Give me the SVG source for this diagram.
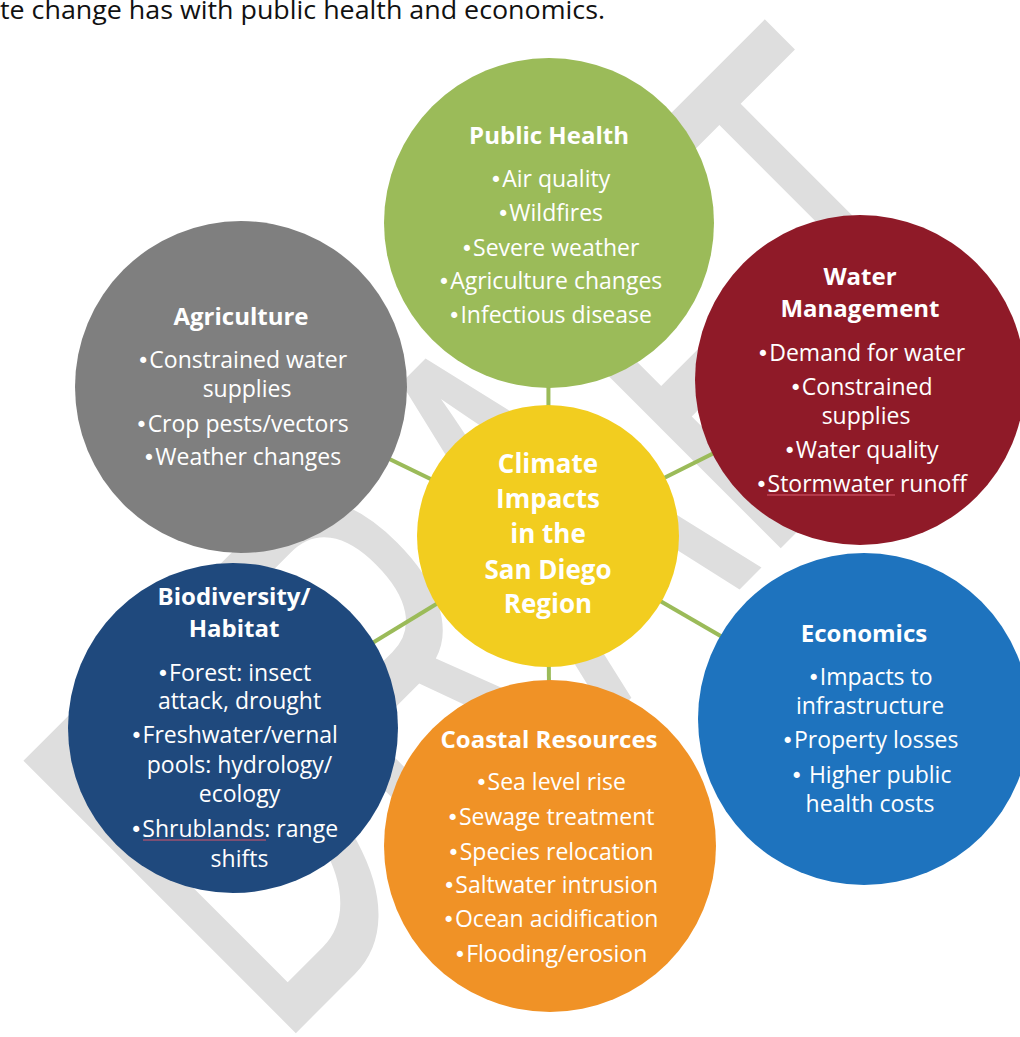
<svg xmlns="http://www.w3.org/2000/svg" width="1020" height="1037" viewBox="0 0 1020 1037">
<style>
.t{font-family:"Open Sans","Noto Sans","Liberation Sans",sans-serif;fill:#fff;text-anchor:middle}
.h{font-size:24px;font-weight:700}
.b{font-size:23px}
.c{font-size:26px;font-weight:700}
.u{font-family:"DejaVu Sans",sans-serif;font-size:21px}
.conn{stroke:#9BBB59;stroke-width:4;fill:none}
.sp{stroke:#D9566A;stroke-width:1.2}
</style>
<rect x="0" y="0" width="1020" height="1037" fill="#fff"/>
<text x="0" y="19" font-family="'Open Sans','Noto Sans',sans-serif" font-size="25" fill="#111" textLength="605" lengthAdjust="spacingAndGlyphs">te change has with public health and economics.</text>
<g id="watermark">
<text x="0" y="0" transform="translate(277,1052) rotate(-45) scale(0.58,1)" font-family="'Liberation Sans',sans-serif" font-size="560" fill="#dedede">DRAFT</text>
</g>
<g id="connectors">
<line class="conn" x1="548" y1="536" x2="549" y2="223"/>
<line class="conn" x1="548" y1="536" x2="860" y2="380"/>
<line class="conn" x1="548" y1="536" x2="864" y2="719"/>
<line class="conn" x1="548" y1="536" x2="241" y2="387"/>
<line class="conn" x1="548" y1="536" x2="233" y2="728"/>
<line class="conn" x1="548" y1="536" x2="550" y2="846"/>
</g>
<g id="public-health">
<circle cx="549" cy="223" r="165" fill="#9BBB59"/>
<text class="t h" x="549" y="144">Public Health</text>
<text class="t b" x="550" y="187"><tspan class="u">•</tspan>Air quality</text>
<text class="t b" x="550" y="221"><tspan class="u">•</tspan>Wildfires</text>
<text class="t b" x="550" y="255.5"><tspan class="u">•</tspan>Severe weather</text>
<text class="t b" x="550" y="289"><tspan class="u">•</tspan>Agriculture changes</text>
<text class="t b" x="550" y="323"><tspan class="u">•</tspan>Infectious disease</text>
</g>
<g id="water-management">
<circle cx="860" cy="380" r="165" fill="#8F1A28"/>
<text class="t h" x="860" y="285">Water</text>
<text class="t h" x="860" y="317">Management</text>
<text class="t b" x="861" y="361"><tspan class="u">•</tspan>Demand for water</text>
<text class="t b" x="861" y="395"><tspan class="u">•</tspan>Constrained</text>
<text class="t b" x="866" y="424">supplies</text>
<text class="t b" x="861" y="458"><tspan class="u">•</tspan>Water quality</text>
<text class="t b" x="861" y="492"><tspan class="u">•</tspan>Stormwater runoff</text>
<line class="sp" x1="767" y1="495" x2="895" y2="495"/>
</g>
<g id="economics">
<circle cx="864" cy="719" r="166" fill="#1E73BE"/>
<text class="t h" x="864" y="642">Economics</text>
<text class="t b" x="870" y="685"><tspan class="u">•</tspan>Impacts to</text>
<text class="t b" x="870" y="714">infrastructure</text>
<text class="t b" x="870" y="748"><tspan class="u">•</tspan>Property losses</text>
<text class="t b" x="871" y="783"><tspan class="u">•</tspan> Higher public</text>
<text class="t b" x="870" y="812">health costs</text>
</g>
<g id="agriculture">
<circle cx="241" cy="387" r="166" fill="#7F7F7F"/>
<text class="t h" x="241" y="325">Agriculture</text>
<text class="t b" x="242" y="368"><tspan class="u">•</tspan>Constrained water</text>
<text class="t b" x="247" y="397">supplies</text>
<text class="t b" x="242" y="432"><tspan class="u">•</tspan>Crop pests/vectors</text>
<text class="t b" x="242" y="465"><tspan class="u">•</tspan>Weather changes</text>
</g>
<g id="biodiversity">
<circle cx="233" cy="728" r="165" fill="#1F497D"/>
<text class="t h" x="234" y="605">Biodiversity/</text>
<text class="t h" x="234" y="637">Habitat</text>
<text class="t b" x="234" y="681"><tspan class="u">•</tspan>Forest: insect</text>
<text class="t b" x="239.5" y="709">attack, drought</text>
<text class="t b" x="234" y="743"><tspan class="u">•</tspan>Freshwater/vernal</text>
<text class="t b" x="239.5" y="773">pools: hydrology/</text>
<text class="t b" x="239.5" y="802">ecology</text>
<text class="t b" x="234" y="837"><tspan class="u">•</tspan>Shrublands: range</text>
<text class="t b" x="239.5" y="867">shifts</text>
<line class="sp" x1="143" y1="840" x2="266" y2="840"/>
</g>
<g id="coastal-resources">
<circle cx="550" cy="846" r="166" fill="#F09226"/>
<text class="t h" x="549" y="748">Coastal Resources</text>
<text class="t b" x="550.5" y="790"><tspan class="u">•</tspan>Sea level rise</text>
<text class="t b" x="550.5" y="825"><tspan class="u">•</tspan>Sewage treatment</text>
<text class="t b" x="550.5" y="860"><tspan class="u">•</tspan>Species relocation</text>
<text class="t b" x="550.5" y="893"><tspan class="u">•</tspan>Saltwater intrusion</text>
<text class="t b" x="550.5" y="927"><tspan class="u">•</tspan>Ocean acidification</text>
<text class="t b" x="550.5" y="962"><tspan class="u">•</tspan>Flooding/erosion</text>
</g>
<g id="center">
<circle cx="548" cy="536" r="131" fill="#F2CD1F"/>
<text class="t c" x="548" y="473">Climate</text>
<text class="t c" x="548" y="508">Impacts</text>
<text class="t c" x="548" y="543">in the</text>
<text class="t c" x="548" y="579">San Diego</text>
<text class="t c" x="548" y="613">Region</text>
</g>
</svg>
